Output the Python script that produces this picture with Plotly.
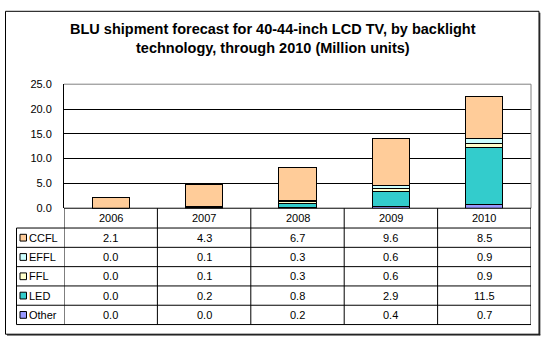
import plotly.graph_objects as go

W, H = 546, 346

years = ["2006", "2007", "2008", "2009", "2010"]
series_names = ["CCFL", "EFFL", "FFL", "LED", "Other"]
ccfl = [2.1, 4.3, 6.7, 9.6, 8.5]
effl = [0.0, 0.1, 0.3, 0.6, 0.9]
ffl = [0.0, 0.1, 0.3, 0.6, 0.9]
led = [0.0, 0.2, 0.8, 2.9, 11.5]
other = [0.0, 0.0, 0.2, 0.4, 0.7]
colors = {"CCFL": "#FFCC99", "EFFL": "#CCFFFF", "FFL": "#FFFFCC",
          "LED": "#33CCCC", "Other": "#9999FF"}
values = {"CCFL": ccfl, "EFFL": effl, "FFL": ffl, "LED": led, "Other": other}
title_lines = ["BLU shipment forecast for 40-44-inch LCD TV, by backlight",
               "technology, through 2010 (Million units)"]

FONT = "Liberation Sans, Arial, sans-serif"


def px(x):
    return x / W


def py(y):
    return 1 - y / H


fig = go.Figure()
# stacking order bottom -> top
for name in ["Other", "LED", "FFL", "EFFL", "CCFL"]:
    fig.add_trace(go.Bar(
        x=years, y=values[name], name=name,
        marker=dict(color=colors[name], line=dict(color="black", width=1)),
        showlegend=False, hoverinfo="x+y+name",
    ))

PL, PR, PT, PB = 64, 531, 81, 209.5
fig.update_layout(
    width=W, height=H,
    margin=dict(l=0, r=0, t=0, b=0),
    paper_bgcolor="white", plot_bgcolor="white",
    barmode="stack", bargap=0.6,
    font=dict(family=FONT, size=11, color="black"),
    xaxis=dict(domain=[px(PL), px(PR)], type="category", showticklabels=False,
               showgrid=False, zeroline=False, showline=False, ticks="",
               range=[-0.5, 4.5]),
    yaxis=dict(domain=[py(PB), py(PT)], range=[0, 25], dtick=5, tickformat=".1f",
               showgrid=True, gridcolor="black", gridwidth=1, zeroline=False,
               showline=True, linecolor="black", linewidth=1, ticks="",
               ticklabelstandoff=9, tickfont=dict(size=11, family=FONT)),
)

shapes = []
# plot area top/right border (gray)
shapes.append(dict(type="line", xref="paper", yref="paper", x0=px(PL), x1=px(PR),
                   y0=py(PT), y1=py(PT), line=dict(color="#808080", width=1), layer="above"))
shapes.append(dict(type="line", xref="paper", yref="paper", x0=px(PR), x1=px(PR),
                   y0=py(PT), y1=py(PB), line=dict(color="#808080", width=1), layer="above"))

# data table lines
row_tops = [209.5, 230, 250, 270, 290, 310, 330]
TL = 16.5
for i, yy in enumerate(row_tops):
    x0 = PL if i == 0 else TL
    shapes.append(dict(type="line", xref="paper", yref="paper", x0=px(x0), x1=px(PR),
                       y0=py(yy), y1=py(yy), line=dict(color="black", width=1)))
# verticals
shapes.append(dict(type="line", xref="paper", yref="paper", x0=px(TL), x1=px(TL),
                   y0=py(230), y1=py(330), line=dict(color="black", width=1)))
for k in range(len(years) + 1):
    shapes.append(dict(type="line", xref="x", yref="paper", x0=k - 0.5, x1=k - 0.5,
                       y0=py(209.5), y1=py(330), line=dict(color="black", width=1)))

annotations = []
# header (years)
for j, yr in enumerate(years):
    annotations.append(dict(x=j, y=py(219.5), xref="x", yref="paper", text=yr,
                            showarrow=False, font=dict(size=11, family=FONT),
                            xanchor="center", yanchor="middle"))
# rows
for r, name in enumerate(series_names):
    cy = (row_tops[r + 1] + row_tops[r + 2]) / 2
    for j, v in enumerate(values[name]):
        annotations.append(dict(x=j, y=py(cy), xref="x", yref="paper", text=f"{v:.1f}",
                                showarrow=False, font=dict(size=11, family=FONT),
                                xanchor="center", yanchor="middle"))
    # legend key
    shapes.append(dict(type="rect", xref="paper", yref="paper",
                       x0=px(20), x1=px(26.5), y0=py(cy - 3.5), y1=py(cy + 3.5),
                       fillcolor=colors[name], line=dict(color="black", width=1)))
    annotations.append(dict(x=px(27), y=py(cy), xref="paper", yref="paper", text=name,
                            showarrow=False, font=dict(size=11, family=FONT),
                            xanchor="left", yanchor="middle"))

# title (two lines)
for line, yy in zip(title_lines, [23.5, 43.5]):
    annotations.append(dict(x=px(273), y=py(yy), xref="paper", yref="paper",
                            text=f"<b>{line}</b>", showarrow=False,
                            font=dict(size=14.5, family=FONT, color="black"),
                            xanchor="center", yanchor="middle"))

# outer border with slight shadow on right/bottom
shapes.append(dict(type="rect", xref="paper", yref="paper", x0=px(5.5), x1=px(539),
                   y0=py(5.5), y1=py(340), line=dict(color="black", width=1)))
shapes.append(dict(type="line", xref="paper", yref="paper", x0=px(539.8), x1=px(539.8),
                   y0=py(7), y1=py(341), line=dict(color="black", width=1)))
shapes.append(dict(type="line", xref="paper", yref="paper", x0=px(7), x1=px(540.3),
                   y0=py(340.8), y1=py(340.8), line=dict(color="black", width=1)))

fig.update_layout(shapes=shapes, annotations=annotations)
fig.write_html("out.html")
